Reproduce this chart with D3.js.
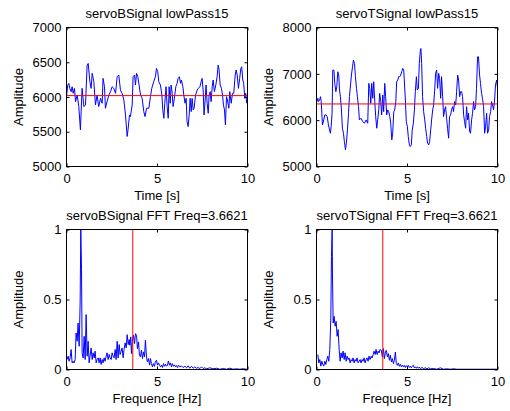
<!DOCTYPE html>
<html>
<head>
<meta charset="utf-8">
<script src="https://cdn.jsdelivr.net/npm/d3@7"></script>
<style>
  body { margin: 0; background: #fff; }
  svg { display: block; }
  text { font-family: "Liberation Sans", Arial, Helvetica, sans-serif; fill: #000; }
</style>
</head>
<body>
<div id="chart"></div>
<script>
// servoB time signal (lowPass15)
const timeB = [0.00,0.07,0.13,0.18,0.26,0.31,0.37,0.44,0.50,0.59,0.68,0.77,0.86,0.96,1.05,1.14,1.20,1.29,1.36,1.42,1.51,1.60,1.69,1.78,1.88,1.97,2.02,2.10,2.15,2.24,2.34,2.43,2.52,2.61,2.71,2.80,2.89,2.98,3.07,3.17,3.26,3.35,3.40,3.48,3.53,3.63,3.68,3.76,3.81,3.87,3.94,4.01,4.09,4.18,4.27,4.34,4.42,4.55,4.64,4.71,
  4.82,4.91,4.97,5.04,5.10,5.19,5.27,5.32,5.38,5.43,5.50,5.56,5.62,5.67,5.73,5.78,5.84,5.89,5.96,6.04,6.11,6.17,6.24,6.30,6.35,6.43,6.48,6.55,6.61,6.66,6.72,6.78,6.83,6.89,6.94,7.00,7.05,7.13,7.22,7.29,7.37,7.44,7.49,7.55,7.60,7.66,7.71,7.77,7.83,7.88,7.94,7.99,8.05,8.10,8.17,8.25,8.32,8.38,8.43,8.49,8.56,8.62,8.67,8.73,8.78,8.84,8.89,8.97,9.02,9.10,9.17,9.24,9.32,9.37,9.43,9.50,9.57,9.63,9.68,9.74,9.79,9.85,9.90,9.96,10.00];
const ampB = [6005,6172,6196,6125,6077,6148,6053,6125,5933,6029,5862,5527,6125,5862,5886,6459,6483,6220,6125,6340,6220,5886,6029,5862,5981,5910,6268,6148,5838,5933,6029,6077,6148,6125,6053,6292,6316,6101,6053,5957,5742,5432,5527,5742,5718,5886,6292,6316,6172,6340,6292,6172,6029,5981,5790,5718,5838,5838,6005,6125,
  6220,6292,6411,6364,6220,6172,6029,5814,5694,5910,6148,5862,5694,6148,5910,6172,6053,5862,5981,6148,6196,6268,6292,6196,6244,6148,6029,5910,5981,5647,5575,5742,5981,5790,5981,5814,5838,6029,6101,6125,6148,6220,6268,6101,5742,5957,6172,5910,5766,6029,6077,5933,6148,6244,6077,6172,6292,6459,6388,6172,6125,6029,5886,5814,5599,6005,5957,5838,6077,5910,6053,6053,6316,6388,6316,6125,6268,6411,6435,6244,6196,5981,6053,5910,5900];
const meanB = 6020;

// servoT time signal (lowPass15)
const timeT = [0.00,0.07,0.11,0.17,0.22,0.26,0.33,0.40,0.46,0.53,0.59,0.66,0.72,0.77,0.81,0.86,0.90,0.96,1.01,1.07,1.12,1.18,1.23,1.27,1.32,1.38,1.43,1.49,1.54,1.60,1.65,1.71,1.77,1.82,1.88,1.93,1.99,2.04,2.10,2.15,2.21,2.26,2.32,2.37,2.46,2.56,2.65,2.74,2.83,2.89,2.94,3.00,3.05,3.11,3.16,3.22,3.27,3.33,3.38,3.44,3.49,3.55,3.60,3.66,3.71,3.77,3.82,3.88,3.93,3.99,4.05,4.10,4.16,4.21,4.27,4.32,4.38,4.43,4.49,4.54,4.60,4.65,4.71,4.76,4.82,
  4.91,4.96,5.02,5.07,5.13,5.18,5.24,5.29,5.35,5.41,5.46,5.52,5.57,5.63,5.68,5.74,5.77,5.81,5.86,5.92,5.98,6.03,6.09,6.14,6.20,6.25,6.31,6.36,6.42,6.47,6.53,6.58,6.64,6.69,6.75,6.80,6.86,6.91,6.97,7.02,7.08,7.13,7.19,7.24,7.30,7.35,7.41,7.46,7.52,7.57,7.63,7.69,7.74,7.80,7.85,7.91,7.96,8.02,8.07,8.13,8.18,8.24,8.29,8.35,8.40,8.46,8.51,8.57,8.62,8.68,8.73,8.79,8.84,8.90,8.95,9.01,9.06,9.12,9.17,9.23,9.29,9.34,9.40,9.45,9.51,9.56,9.62,9.67,9.73,9.78,9.84,9.89,9.95,9.99];
const ampT = [6380,6472,6400,6436,6507,6400,5898,6005,6113,6113,6077,5898,5790,5718,5862,6149,7081,7081,6794,6615,6723,7045,6974,6651,6507,6221,5826,5718,5539,5360,5503,5790,6149,6507,6758,6974,7153,7296,7225,6938,6687,6507,6292,6005,6041,5969,5934,6005,5934,6794,6687,6364,6794,6472,6830,6400,6077,5826,6005,6221,6579,6400,6113,6543,6185,6794,6507,6113,6221,6185,6077,5934,5575,5718,6185,6221,6400,6830,6866,6938,6938,6974,7045,7117,7081,
  6436,5969,5862,5647,5467,5431,5467,5790,5934,6221,6615,6938,6651,6687,7225,7512,7547,7225,6507,6185,6005,5826,5647,5503,5467,5539,5790,6005,6221,6328,6651,7010,7081,6687,7010,6902,6472,6938,6507,6077,6221,6292,6041,5826,5611,6077,6113,6221,6292,6185,6400,6328,6615,6974,6866,6507,6615,6615,6507,6113,5969,5826,6292,6005,6149,5754,5718,6005,6149,6400,6221,6292,6687,7368,7368,6974,6794,6579,6472,6292,5718,5862,6149,5718,5790,6077,6185,6400,6328,6221,6436,6758,6866,6723];
const meanT = 6350;

// FFT spectra
const peakFreq = 3.6621;
const freqB = [0.035,0.09,0.146,0.20,0.256,0.31,0.37,0.42,0.477,0.53,0.59,0.64,0.70,0.753,0.79,0.83,0.864,0.92,0.975,1.03,1.085,1.14,1.195,1.25,1.30,1.36,1.42,1.47,1.53,1.58,1.64,1.69,1.75,1.80,1.86,1.91,1.97,2.02,2.08,2.13,2.19,2.24,2.30,2.36,2.41,2.47,2.52,2.58,2.63,2.69,2.74,2.80,2.85,2.91,2.96,3.02,3.07,3.13,3.18,3.24,3.30,3.35,3.41,3.46,
  3.50,3.55,3.59,3.64,3.70,3.76,3.81,3.87,3.92,3.98,4.03,4.09,4.14,4.20,4.25,4.31,4.36,4.42,4.47,4.53,4.59,4.64,4.69,4.75,4.80,4.86,4.91,4.97,5.03,5.08,5.14,5.19,5.25,5.30,5.36,5.41,5.47,5.52,5.58,5.63,5.69,5.74,5.80,5.85,5.91,5.97,6.02,6.08,6.13,6.19,6.26,6.35,6.44,6.54,6.63,6.72,6.81,6.91,7.00,7.09,7.18,7.27,7.37,7.46,7.55,7.64,7.74,7.92,8.10,8.29,8.47,8.66,8.84,9.02,9.21,9.39,9.57,9.76,9.94,10.0];
const fftB = [0.071,0.095,0.059,0.083,0.143,0.047,0.059,0.047,0.071,0.261,0.202,0.332,0.166,0.475,1.0,0.712,0.119,0.083,0.237,0.071,0.392,0.095,0.202,0.047,0.095,0.154,0.071,0.119,0.083,0.131,0.047,0.071,0.083,0.047,0.083,0.036,0.071,0.047,0.083,0.059,0.095,0.119,0.071,0.107,0.083,0.071,0.119,0.095,0.083,0.143,0.071,0.202,0.083,0.178,0.107,0.131,0.154,0.083,0.143,0.190,0.154,0.249,0.178,0.214,
  0.173,0.233,0.114,0.209,0.244,0.185,0.256,0.244,0.149,0.197,0.102,0.090,0.138,0.078,0.126,0.090,0.209,0.090,0.054,0.078,0.031,0.078,0.042,0.019,0.042,0.023,0.054,0.066,0.031,0.047,0.031,0.019,0.031,0.014,0.042,0.023,0.038,0.023,0.031,0.061,0.031,0.047,0.019,0.042,0.023,0.033,0.019,0.028,0.014,0.031,0.019,0.026,0.014,0.023,0.012,0.026,0.009,0.023,0.009,0.019,0.009,0.014,0.007,0.019,0.007,0.012,0.005,0.012,0.005,0.009,0.002,0.007,0.002,0.009,0.002,0.005,0.002,0.005,0.002,0.002];

const freqT = [0.074,0.129,0.184,0.239,0.294,0.35,0.40,0.46,0.515,0.57,0.625,0.68,0.736,0.79,0.827,0.864,0.882,0.92,0.975,1.03,1.085,1.14,1.195,1.25,1.305,1.36,1.415,1.47,1.53,1.58,1.64,1.69,1.75,1.80,1.86,1.91,1.97,2.02,2.08,2.13,2.19,2.24,2.30,2.35,2.41,2.46,2.52,2.57,2.63,2.68,2.74,2.79,2.85,2.90,2.96,3.02,3.07,3.13,3.18,3.24,3.29,3.35,3.40,3.46,3.51,
  3.58,3.64,3.70,3.75,3.81,3.86,3.92,3.97,4.03,4.08,4.14,4.19,4.25,4.30,4.36,4.41,4.47,4.52,4.58,4.63,4.69,4.74,4.80,4.85,4.91,4.96,5.02,5.07,5.13,5.18,5.24,5.29,5.35,5.41,5.46,5.52,5.57,5.63,5.68,5.74,5.83,5.92,6.01,6.10,6.20,6.29,6.47,6.65,6.84,7.02,7.20,7.39,7.57,7.75,7.94,8.29,8.66,9.02,9.39,9.94,10.0];
const fftT = [0.107,0.047,0.071,0.024,0.059,0.036,0.024,0.059,0.036,0.071,0.095,0.059,0.143,0.368,0.807,1.0,0.689,0.332,0.380,0.309,0.344,0.237,0.285,0.143,0.059,0.119,0.083,0.131,0.071,0.119,0.059,0.095,0.071,0.083,0.047,0.071,0.059,0.083,0.047,0.071,0.059,0.083,0.047,0.059,0.071,0.047,0.071,0.059,0.083,0.047,0.071,0.083,0.059,0.095,0.071,0.095,0.083,0.107,0.131,0.107,0.143,0.107,0.131,0.119,0.143,
  0.137,0.090,0.149,0.078,0.125,0.137,0.090,0.114,0.066,0.102,0.054,0.078,0.042,0.066,0.125,0.042,0.030,0.047,0.023,0.037,0.019,0.030,0.019,0.030,0.014,0.028,0.019,0.030,0.014,0.023,0.012,0.023,0.030,0.012,0.019,0.009,0.019,0.009,0.017,0.007,0.014,0.007,0.012,0.005,0.012,0.005,0.007,0.002,0.012,0.002,0.005,0.002,0.005,0.002,0.002,0.002,0.002,0.002,0.002,0.002,0.002];

const width = 510;
const height = 411;

const svg = d3.select("#chart")
    .append("svg")
    .attr("width", width)
    .attr("height", height);

// one MATLAB-style subplot
function drawPanel(p) {
    const g = svg.append("g").attr("transform", `translate(${p.left},${p.top})`);
    const x = d3.scaleLinear().domain([0, 10]).range([0, p.w]);
    const y = d3.scaleLinear().domain(p.yDomain).range([p.h, 0]);

    const clipId = "clip" + p.id;
    g.append("clipPath").attr("id", clipId)
        .append("rect").attr("width", p.w).attr("height", p.h);

    const plot = g.append("g").attr("clip-path", `url(#${clipId})`);

    const line = d3.line()
        .x((d, i) => x(p.xs[i]))
        .y(d => y(d));

    plot.append("path")
        .datum(p.ys)
        .attr("d", line)
        .attr("fill", "none")
        .attr("stroke", "#0000ff")
        .attr("stroke-width", 1);

    if (p.hline !== undefined) {
        plot.append("line")
            .attr("x1", 0).attr("x2", p.w)
            .attr("y1", y(p.hline)).attr("y2", y(p.hline))
            .attr("stroke", "#ff0000");
    }
    if (p.vline !== undefined) {
        plot.append("line")
            .attr("x1", x(p.vline)).attr("x2", x(p.vline))
            .attr("y1", 0).attr("y2", p.h)
            .attr("stroke", "#ff0000");
    }

    const fmt = d => String(d);

    // axes, ticks pointing inward
    g.append("g").attr("transform", `translate(0,${p.h})`)
        .call(d3.axisBottom(x).tickValues([0, 5, 10]).tickFormat(fmt).tickSizeInner(-3).tickSizeOuter(0).tickPadding(7));
    g.append("g")
        .call(d3.axisTop(x).tickValues([0, 5, 10]).tickFormat("").tickSizeInner(-3).tickSizeOuter(0));
    g.append("g")
        .call(d3.axisLeft(y).tickValues(p.yTicks).tickFormat(fmt).tickSizeInner(-3).tickSizeOuter(0).tickPadding(5));
    g.append("g").attr("transform", `translate(${p.w},0)`)
        .call(d3.axisRight(y).tickValues(p.yTicks).tickFormat("").tickSizeInner(-3).tickSizeOuter(0));

    g.selectAll(".domain").remove();
    g.selectAll(".tick line").attr("stroke", "#000");
    g.selectAll(".tick text")
        .style("font-size", "13px")
        .attr("fill", "#000");

    g.append("rect")
        .attr("width", p.w).attr("height", p.h)
        .attr("fill", "none")
        .attr("stroke", "#000")
        .attr("stroke-width", 1);

    g.append("text")
        .attr("x", p.w / 2).attr("y", -9.5)
        .attr("text-anchor", "middle")
        .style("font-size", "13px")
        .text(p.title);

    g.append("text")
        .attr("x", p.w / 2).attr("y", p.h + 33)
        .attr("text-anchor", "middle")
        .style("font-size", "13px")
        .text(p.xLabel);

    g.append("text")
        .attr("transform", `translate(-44,${p.h / 2}) rotate(-90)`)
        .attr("text-anchor", "middle")
        .style("font-size", "13px")
        .text("Amplitude");
}

drawPanel({
    id: 1, left: 66.5, top: 27.5, w: 181, h: 139,
    xs: timeB, ys: ampB, yDomain: [5000, 7000], yTicks: [5000, 5500, 6000, 6500, 7000],
    hline: meanB, title: "servoBSignal lowPass15", xLabel: "Time [s]"
});
drawPanel({
    id: 2, left: 316.5, top: 27.5, w: 181, h: 139,
    xs: timeT, ys: ampT, yDomain: [5000, 8000], yTicks: [5000, 6000, 7000, 8000],
    hline: meanT, title: "servoTSignal lowPass15", xLabel: "Time [s]"
});
drawPanel({
    id: 3, left: 66.5, top: 229.5, w: 181, h: 140,
    xs: freqB, ys: fftB, yDomain: [0, 1], yTicks: [0, 0.5, 1],
    vline: peakFreq, title: "servoBSignal FFT Freq=" + peakFreq, xLabel: "Frequence [Hz]"
});
drawPanel({
    id: 4, left: 316.5, top: 229.5, w: 181, h: 140,
    xs: freqT, ys: fftT, yDomain: [0, 1], yTicks: [0, 0.5, 1],
    vline: peakFreq, title: "servoTSignal FFT Freq=" + peakFreq, xLabel: "Frequence [Hz]"
});
</script>
</body>
</html>
